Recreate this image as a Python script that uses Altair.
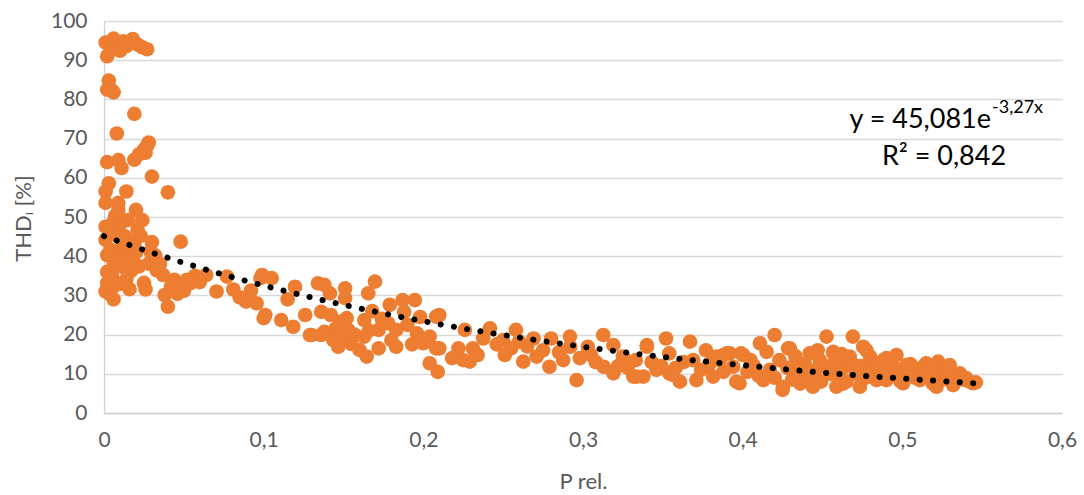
import altair as alt
import pandas as pd

# ---- data ----
p_rel = [
    0.001, 0.002, 0.004, 0.006, 0.008, 0.010, 0.012, 0.014, 0.018, 0.021, 0.024, 0.027,
    0.002, 0.003, 0.005, 0.006, 0.019, 0.008,
    0.002, 0.009, 0.011, 0.019, 0.022, 0.025, 0.027, 0.028, 0.026, 0.030, 0.040,
    0.003, 0.001, 0.014, 0.001, 0.009, 0.020, 0.024, 0.015, 0.001, 0.048,
    0.001, 0.003, 0.002, 0.002, 0.002, 0.001, 0.004, 0.006, 0.005, 0.006, 0.008, 0.008,
    0.010, 0.012, 0.012, 0.014, 0.016, 0.017, 0.018, 0.019, 0.021, 0.023, 0.020, 0.022,
    0.025, 0.026, 0.028, 0.029, 0.030, 0.032, 0.033, 0.035, 0.037, 0.038, 0.040, 0.042,
    0.044, 0.046, 0.047, 0.050, 0.052, 0.054, 0.057, 0.060, 0.064, 0.007, 0.009, 0.005,
    0.013, 0.015, 0.011, 0.007, 0.004, 0.016, 0.010,
    0.0705, 0.077, 0.089, 0.098, 0.100, 0.0956, 0.092, 0.099, 0.105, 0.101, 0.111, 0.1185,
    0.126, 0.1196, 0.130, 0.134, 0.138, 0.1415, 0.136, 0.138, 0.1436, 0.1467, 0.151, 0.151,
    0.152, 0.153, 0.150, 0.1655, 0.1697, 0.163, 0.163, 0.1645, 0.172, 0.172, 0.179, 0.183,
    0.183, 0.187, 0.1947, 0.188, 0.196, 0.200, 0.204, 0.208, 0.208, 0.204, 0.209, 0.180,
    0.178, 0.160, 0.148, 0.136, 0.129, 0.145, 0.157, 0.168, 0.174, 0.190, 0.193, 0.166,
    0.155, 0.142, 0.115, 0.081, 0.085, 0.198,
    0.210, 0.210, 0.226, 0.222, 0.231, 0.234, 0.225, 0.229, 0.2417, 0.250, 0.251, 0.258,
    0.260, 0.2626, 0.269, 0.271, 0.279, 0.280, 0.2876, 0.2918, 0.292, 0.296, 0.303, 0.305,
    0.3127, 0.313, 0.319, 0.319, 0.325, 0.3315, 0.340, 0.3378, 0.346, 0.352, 0.354, 0.354,
    0.3607, 0.367, 0.369, 0.371, 0.377, 0.3815, 0.3857, 0.390, 0.396, 0.394, 0.255, 0.265,
    0.275, 0.285, 0.298, 0.308, 0.322, 0.328, 0.333, 0.343, 0.349, 0.358, 0.363, 0.374,
    0.379, 0.388, 0.2375, 0.246, 0.218, 0.3336, 0.3565, 0.340, 0.3836, 0.392, 0.4003,
    0.3878, 0.399, 0.398, 0.4108, 0.420, 0.415, 0.413, 0.4285, 0.423, 0.425, 0.4337, 0.442,
    0.4525, 0.4483, 0.4567, 0.444, 0.4587, 0.469, 0.467, 0.4755, 0.4797, 0.4734, 0.490,
    0.4963, 0.4838, 0.5026, 0.515, 0.5224, 0.5297, 0.536, 0.5443, 0.540, 0.511, 0.5214,
    0.5318, 0.5005, 0.490, 0.4775, 0.4567, 0.513, 0.4295, 0.4253,
    0.403, 0.407, 0.410, 0.417, 0.420, 0.428, 0.431, 0.436, 0.439, 0.441, 0.446, 0.449,
    0.452, 0.455, 0.458, 0.461, 0.463, 0.465, 0.469, 0.471, 0.474, 0.477, 0.480, 0.482,
    0.485, 0.487, 0.492, 0.494, 0.497, 0.499, 0.503, 0.506, 0.508, 0.510, 0.514, 0.517,
    0.519, 0.522, 0.525, 0.527, 0.530, 0.533, 0.535, 0.538, 0.542, 0.546, 0.405, 0.433,
    0.447, 0.462, 0.488, 0.505, 0.527, 0.519, 0.499, 0.463, 0.436,
]
thd_i = [
    94.5, 91.0, 93.0, 95.5, 94.2, 92.4, 94.8, 93.6, 95.4, 94.0, 93.3, 92.8,
    82.5, 84.8, 82.3, 81.8, 76.3, 71.3,
    64.0, 64.5, 62.5, 64.6, 66.0, 67.2, 68.2, 69.0, 66.4, 60.3, 56.3,
    58.6, 56.5, 56.5, 53.6, 53.6, 51.8, 49.2, 49.2, 47.5, 43.7,
    44.2, 46.8, 40.3, 36.0, 33.2, 31.0, 30.2, 29.0, 35.1, 38.3, 41.2, 45.3,
    48.1, 42.4, 37.2, 34.1, 31.6, 36.3, 39.4, 43.1, 46.9, 45.2, 41.0, 37.4,
    33.2, 31.5, 38.1, 41.3, 43.6, 40.2, 36.4, 38.0, 35.2, 30.1, 27.1, 32.3,
    34.0, 30.4, 33.1, 31.2, 34.0, 33.1, 35.0, 33.4, 35.2, 50.3, 51.8, 48.2,
    45.1, 40.2, 33.0, 32.5, 41.7, 44.0, 39.0,
    31.0, 34.8, 28.4, 34.4, 24.2, 28.0, 31.2, 35.2, 34.4, 25.0, 23.7, 22.0,
    25.0, 32.2, 19.9, 33.1, 32.7, 30.5, 25.8, 20.7, 18.6, 16.9, 31.8, 29.3,
    24.2, 21.2, 18.6, 30.5, 33.5, 23.7, 19.5, 14.4, 16.5, 21.2, 27.6, 21.2,
    16.9, 28.8, 28.8, 25.8, 20.3, 17.8, 19.5, 24.6, 16.5, 12.7, 10.5, 18.6,
    22.9, 16.1, 23.3, 19.9, 19.9, 21.5, 20.0, 26.0, 24.0, 22.5, 17.5, 21.0,
    17.6, 25.0, 29.0, 31.5, 29.5, 24.5,
    25.0, 16.5, 21.2, 16.5, 16.5, 14.8, 13.5, 13.1, 21.6, 18.6, 14.8, 21.2,
    18.2, 13.1, 19.0, 14.4, 11.8, 19.0, 13.5, 19.5, 16.9, 8.4, 16.9, 14.8,
    19.9, 11.8, 17.3, 10.1, 14.4, 9.3, 17.3, 9.3, 11.0, 19.0, 15.2, 10.1,
    8.0, 18.2, 13.5, 8.4, 16.0, 9.3, 13.5, 15.2, 8.0, 11.8, 16.5, 17.0,
    16.0, 15.5, 14.0, 13.0, 12.0, 11.5, 13.5, 13.0, 12.0, 11.5, 13.0, 11.0,
    12.5, 10.5, 19.0, 17.5, 14.0, 9.3, 9.7, 16.9, 14.4, 15.2, 14.8,
    14.8, 15.2, 7.6, 17.8, 19.9, 15.6, 8.4, 16.5, 13.5, 5.9, 13.1, 15.2,
    19.5, 13.5, 15.6, 6.7, 6.7, 19.5, 14.4, 16.9, 14.4, 6.7, 14.0,
    14.8, 8.4, 12.2, 12.7, 13.1, 12.2, 10.1, 7.6, 8.9, 8.4, 6.7,
    7.1, 7.6, 8.4, 16.0, 15.2, 11.8, 16.5, 6.7,
    10.5, 12.0, 9.5, 11.0, 9.0, 11.5, 8.5, 10.5, 12.5, 9.0, 11.0, 8.0,
    12.0, 10.0, 13.0, 9.5, 11.5, 8.0, 12.5, 10.0, 12.0, 9.0, 11.0, 12.5,
    10.0, 12.0, 10.5, 12.0, 9.5, 11.0, 9.5, 10.5, 9.0, 11.0, 10.0, 9.0,
    11.0, 9.5, 8.5, 10.0, 9.0, 8.0, 9.5, 8.5, 8.0, 7.8, 13.5, 14.5,
    16.0, 15.0, 13.5, 12.5, 11.5, 7.5, 8.0, 7.5, 7.5,
]

# dotted trendline
trend_x = [0.0, 0.05, 0.1, 0.15, 0.2, 0.25, 0.3, 0.35, 0.4, 0.45, 0.5, 0.545]
trend_y = [45.1, 38.3, 32.5, 27.6, 23.4, 19.9, 16.9, 14.3, 12.2, 10.3, 8.8, 7.6]

x_ticks = [0, 0.1, 0.2, 0.3, 0.4, 0.5, 0.6]
y_ticks = [0, 10, 20, 30, 40, 50, 60, 70, 80, 90, 100]

eq_main = "y = 45,081e"
eq_exp = "-3,27x"
r2_text = "R² = 0,842"

FONT = "Lato"
GREY = "#595959"

pts = pd.DataFrame({"p": p_rel, "thd": thd_i})
trend = pd.DataFrame({"p": trend_x, "thd": trend_y})

x_scale = alt.Scale(domain=[0, 0.6], nice=False, zero=False)
y_scale = alt.Scale(domain=[0, 100], nice=False)

x_axis = alt.Axis(
    values=x_ticks, tickCount=20, labelExpr="replace(format(datum.value, '~g'), '.', ',')",
    grid=False, ticks=False, tickSize=0, domainColor="#D0D0D0", domainWidth=1.3,
    labelFont=FONT, labelFontSize=21, labelColor=GREY, labelPadding=16,
    labelOverlap=False, labelFlush=False,
    title="P rel.", titleFont=FONT, titleFontSize=22, titleFontWeight="normal",
    titleColor=GREY, titleX=479, titleY=68, titleBaseline="middle", titleAlign="center",
)
y_axis = alt.Axis(
    values=y_ticks, tickCount=20, grid=True, gridColor="#D9D9D9", gridWidth=1.3,
    ticks=False, tickSize=0, domainColor="#D0D0D0", domainWidth=1.3,
    labelFont=FONT, labelFontSize=21, labelColor=GREY, labelPadding=17,
    labelOverlap=False, labelFlush=False,
    title="THDᵢ [%]", titleFont=FONT, titleFontSize=22, titleFontWeight="normal",
    titleColor=GREY, titleX=-81, titleY=197, titleAngle=270, titleAlign="center",
    titleBaseline="middle",
)

scatter = alt.Chart(pts).mark_circle(size=215, color="#ED7D31", opacity=1).encode(
    x=alt.X("p:Q", scale=x_scale, axis=x_axis),
    y=alt.Y("thd:Q", scale=y_scale, axis=y_axis),
)

trendline = alt.Chart(trend).mark_line(
    color="black", strokeWidth=6, strokeDash=[0.1, 13.3], strokeCap="round",
    interpolate="monotone",
).encode(
    x=alt.X("p:Q", scale=x_scale, axis=x_axis),
    y=alt.Y("thd:Q", scale=y_scale, axis=y_axis),
)

t1 = alt.Chart(pd.DataFrame({"t": [eq_main]})).mark_text(
    font=FONT, fontSize=27, color="#000000", align="right", baseline="alphabetic"
).encode(text="t:N", x=alt.value(887), y=alt.value(107))
t2 = alt.Chart(pd.DataFrame({"t": [eq_exp]})).mark_text(
    font=FONT, fontSize=18, color="#000000", align="left", baseline="alphabetic"
).encode(text="t:N", x=alt.value(888), y=alt.value(92))
t3 = alt.Chart(pd.DataFrame({"t": [r2_text]})).mark_text(
    font=FONT, fontSize=27, color="#000000", align="center", baseline="alphabetic"
).encode(text="t:N", x=alt.value(840), y=alt.value(144))

chart = alt.layer(scatter, trendline, t1, t2, t3).properties(
    width=958, height=392,
    autosize=alt.AutoSizeParams(type="none"),
    padding={"left": 104, "top": 21, "right": 22, "bottom": 82},
    background="white",
).configure_view(stroke=None)

chart.save("out.html", embed_options={"renderer": "svg", "actions": False})
